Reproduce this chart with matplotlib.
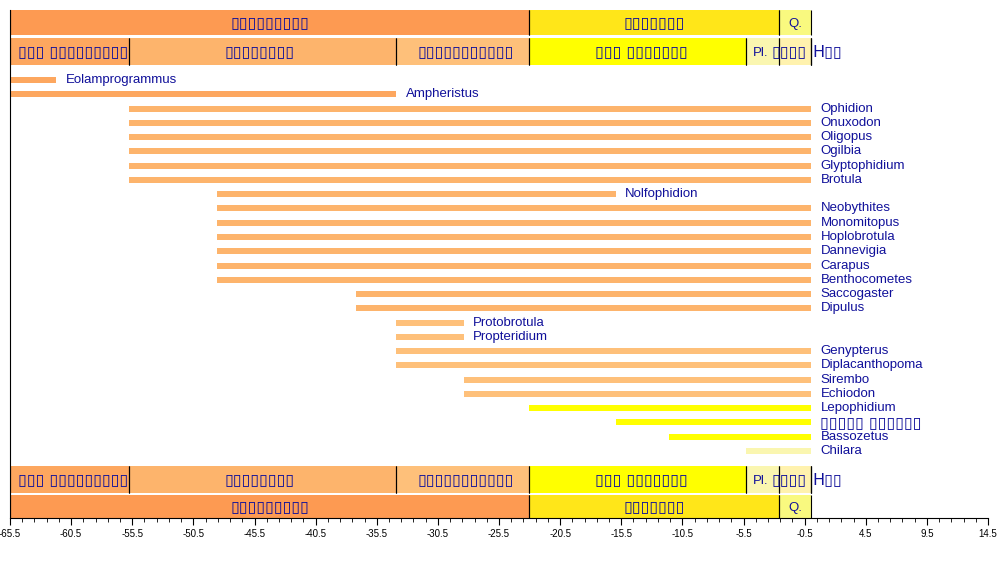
import matplotlib
matplotlib.use('Agg')
import matplotlib.pyplot as plt
import numpy as np

plt.rcParams['font.family'] = ['Liberation Sans', 'DejaVu Sans']

# Periodos geologicos (Ma, negativos = antes del presente)
period_names = ['▯▯▯▯▯▯▯▯▯', '▯▯▯▯▯▯▯', 'Q.']
period_start = [-65.5, -23.03, -2.588]
period_end = [-23.03, -2.588, 0.0]
period_colors = ['#FD9A52', '#FFE619', '#F9F97F']

# Epocas
epoch_names = ['▯▯▯ ▯▯▯▯▯▯▯▯▯', '▯▯▯▯▯▯▯▯', '▯▯▯▯▯▯▯▯▯▯▯', '▯▯▯ ▯▯▯▯▯▯▯',
               'Pl.', '▯▯▯▯', 'H▯▯']
epoch_start = [-65.5, -55.8, -33.9, -23.03, -5.332, -2.588, -0.0117]
epoch_end = [-55.8, -33.9, -23.03, -5.332, -2.588, -0.0117, 0.0]
epoch_colors = ['#FDA75F', '#FDB46C', '#FEC07A', '#FFFF00', '#FAF6B0', '#FFF2AE', '#FEF2E0']

# Generos y su rango estratigrafico
genera = ['Eolamprogrammus', 'Ampheristus', 'Ophidion', 'Onuxodon', 'Oligopus',
          'Ogilbia', 'Glyptophidium', 'Brotula', 'Nolfophidion', 'Neobythites',
          'Monomitopus', 'Hoplobrotula', 'Dannevigia', 'Carapus', 'Benthocometes',
          'Saccogaster', 'Dipulus', 'Protobrotula', 'Propteridium', 'Genypterus',
          'Diplacanthopoma', 'Sirembo', 'Echiodon', 'Lepophidium', '▯▯▯▯▯ ▯▯▯▯▯▯',
          'Bassozetus', 'Chilara']
first = [-65.5, -65.5, -55.8, -55.8, -55.8, -55.8, -55.8, -55.8, -48.6, -48.6,
         -48.6, -48.6, -48.6, -48.6, -48.6, -37.2, -37.2, -33.9, -33.9, -33.9,
         -33.9, -28.4, -28.4, -23.03, -15.97, -11.608, -5.332]
last = [-61.7, -33.9, 0, 0, 0, 0, 0, 0, -15.97, 0,
        0, 0, 0, 0, 0, 0, 0, -28.4, -28.4, 0,
        0, 0, 0, 0, 0, 0, 0]

text_color = '#10109a'

fig = plt.figure(figsize=(10, 5.7), dpi=100)
ax = fig.add_axes([0.01, 52 / 570, 0.978, 518 / 570])
ax.set_xlim(-65.5, 14.5)
ax.set_ylim(518, 0)

row0, row_step = 80, 14.27
bar_h = 6


def label_style(s, va_latin='center_baseline'):
    # las cajas (texto sin glifos en el original) un poco mas grandes
    if '▯' in s:
        return dict(family=['DejaVu Sans'], fontsize=11.5, va='center')
    return dict(fontsize=9.5, va=va_latin)


def draw_band(names, starts, ends, colors, y0, y1, has=None):
    for i, (n, s, e, c) in enumerate(zip(names, starts, ends, colors)):
        ax.broken_barh([(s, e - s)], (y0, y1 - y0), facecolors=c, zorder=1)
        ax.vlines([s, e], y0, y1, colors='black', linewidth=0.8, zorder=2)
        ha, dx = ('center', 0) if has is None else has[i]
        ax.annotate(n, ((s + e) / 2 if ha == 'center' else s, (y0 + y1) / 2),
                    xytext=(dx, 0), textcoords='offset points', ha=ha,
                    color=text_color, zorder=3, **label_style(n))


epoch_align = [('center', 3), ('center', -2), ('center', 2), ('center', 3),
               ('center', -1), ('center', -4), ('left', 1.5)]

draw_band(period_names, period_start, period_end, period_colors, 10, 35)
draw_band(epoch_names, epoch_start, epoch_end, epoch_colors, 38, 65, epoch_align)
draw_band(epoch_names, epoch_start, epoch_end, epoch_colors, 466, 493, epoch_align)
draw_band(period_names, period_start, period_end, period_colors, 495, 518)

# barras de los generos
for i, (g, s, e) in enumerate(zip(genera, first, last)):
    y = row0 + i * row_step
    k = np.searchsorted(epoch_start, s, side='right') - 1
    ax.broken_barh([(s, e - s)], (y - bar_h / 2, bar_h), facecolors=epoch_colors[k], zorder=1)
    ax.annotate(g, (e, y), xytext=(7, 0), textcoords='offset points', ha='left',
                color=text_color, **label_style(g, 'center'))

# ejes
ticks = np.arange(-65.5, 15, 5)
ax.set_xticks(ticks)
ax.set_xticklabels(['%.1f' % t for t in ticks])
ax.set_xticks(np.arange(-65.5, 15, 1), minor=True)
ax.tick_params(axis='x', which='major', length=5, width=0.8, labelsize=7, pad=3)
ax.tick_params(axis='x', which='minor', length=3, width=0.6)
ax.set_yticks([])
for side in ['top', 'right']:
    ax.spines[side].set_visible(False)
ax.spines['left'].set_bounds(10, 518)
ax.spines['left'].set_linewidth(0.8)
ax.spines['bottom'].set_linewidth(0.8)

fig.savefig('out.png', dpi=100)
